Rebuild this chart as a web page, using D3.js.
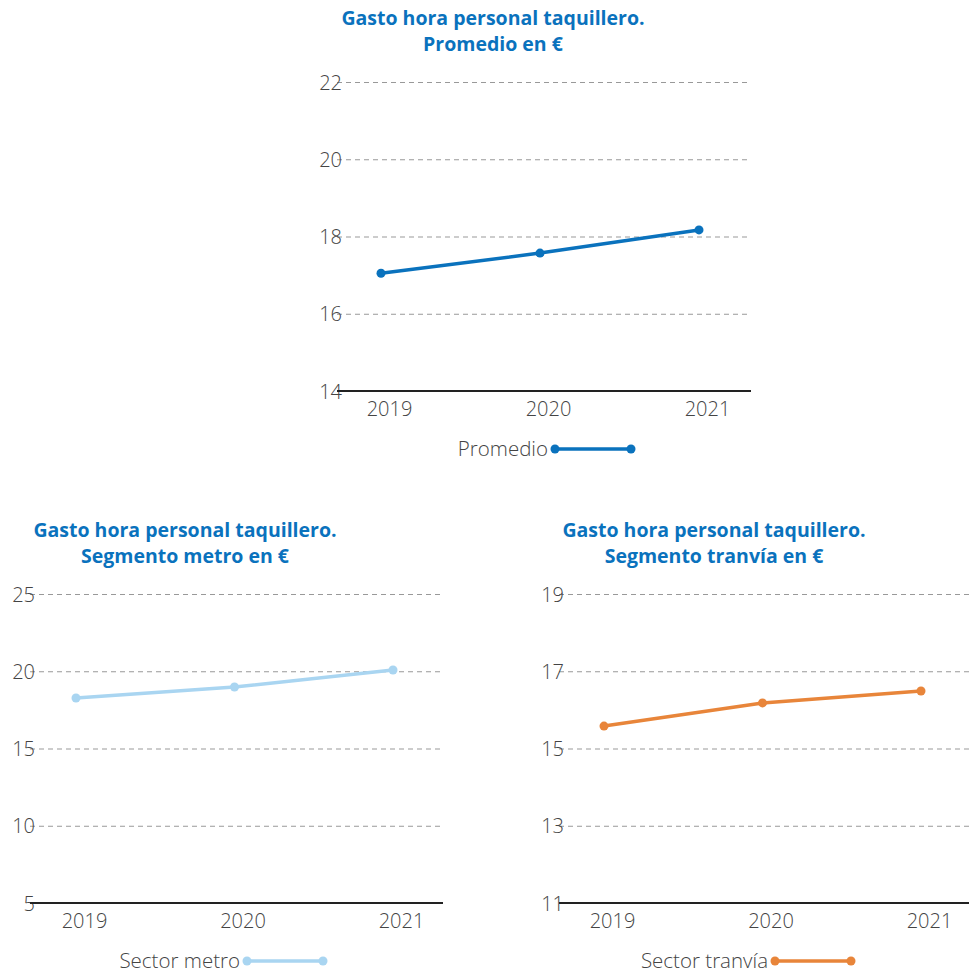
<!DOCTYPE html>
<html><head><meta charset="utf-8">
<script src="https://cdn.jsdelivr.net/npm/d3@7"></script>
<style>
body{margin:0;background:#fff;}
svg{display:block;}
svg text{font-family:"Open Sans",Lato,sans-serif !important;}
.lt{font-weight:300;fill:#444;}
</style></head><body>
<svg id="c" width="969" height="974"></svg>
<script>
const years = ["2019","2020","2021"];
const promedio = [17.05, 17.57, 18.17];
const metro = [18.27, 18.98, 20.08];
const tranvia = [15.58, 16.18, 16.49];
const ticksPromedio = [14,16,18,20,22];
const ticksMetro = [5,10,15,20,25];
const ticksTranvia = [11,13,15,17,19];

const svg = d3.select("#c");
const titleColor = "#0a72bd";

const panels = [
  {title:["Gasto hora personal taquillero.","Promedio en €"], titleX:493, titleY:25,
   left:343, right:751, top:82, bottom:391, domain:[14,22], ticks:ticksPromedio,
   xr:[381,699], values:promedio, color:"#0a72bd", legend:"Promedio", legX:548, legY:449},
  {title:["Gasto hora personal taquillero.","Segmento metro en €"], titleX:185, titleY:537,
   left:36, right:443, top:594, bottom:903, domain:[5,25], ticks:ticksMetro,
   xr:[76,393], values:metro, color:"#a9d5f1", legend:"Sector metro", legX:240, legY:961},
  {title:["Gasto hora personal taquillero.","Segmento tranvía en €"], titleX:714, titleY:537,
   left:565, right:969, top:594, bottom:903, domain:[11,19], ticks:ticksTranvia,
   xr:[604,921], values:tranvia, color:"#e8853a", legend:"Sector tranvía", legX:768, legY:961}
];

panels.forEach(p=>{
  const g = svg.append("g");
  const y = d3.scaleLinear().domain(p.domain).range([p.bottom,p.top]);
  const x = d3.scalePoint().domain(years).range(p.xr);

  // title
  const t = g.append("text").attr("x",p.titleX).attr("y",p.titleY)
    .attr("text-anchor","middle").attr("fill",titleColor)
    .attr("font-size",19.5).attr("font-weight",700);
  p.title.forEach((l,i)=>t.append("tspan").attr("x",p.titleX).attr("dy",i?26:0).text(l));

  // y axis with gridlines
  const ya = g.append("g").attr("transform",`translate(${p.left},0)`)
    .call(d3.axisLeft(y).tickValues(p.ticks).tickSize(-(p.right-p.left)).tickPadding(2));
  ya.select(".domain").remove();
  ya.selectAll(".tick line").attr("stroke","#999").attr("stroke-dasharray","5,4").attr("stroke-width",1)
    .attr("x1",-6);
  ya.selectAll(".tick text").attr("class","lt").attr("font-size",20).attr("x",-1).attr("dy","0.36em");
  ya.selectAll(".tick").filter(d=>d===p.domain[0]).select("line").remove();

  // x axis baseline
  g.append("line").attr("x1",p.left-6).attr("x2",p.right).attr("y1",y(p.domain[0])).attr("y2",y(p.domain[0]))
    .attr("stroke","#222").attr("stroke-width",2);
  const xa = g.append("g").attr("transform",`translate(0,${p.bottom})`)
    .call(d3.axisBottom(x).tickSize(0).tickPadding(8));
  xa.select(".domain").remove();
  xa.selectAll(".tick text").attr("class","lt").attr("font-size",20).attr("dx",8).attr("dy","0.85em");

  // line
  const data = years.map((yr,i)=>({yr,v:p.values[i]}));
  g.append("path").datum(data).attr("fill","none").attr("stroke",p.color).attr("stroke-width",3.5)
    .attr("d",d3.line().x(d=>x(d.yr)).y(d=>y(d.v)));
  g.selectAll("circle.pt").data(data).join("circle").attr("class","pt")
    .attr("cx",d=>x(d.yr)).attr("cy",d=>y(d.v)).attr("r",4.5).attr("fill",p.color);

  // legend
  g.append("text").attr("class","lt").attr("x",p.legX).attr("y",p.legY).attr("dy","0.36em").attr("text-anchor","end")
    .attr("font-size",20.5).text(p.legend);
  g.append("line").attr("x1",p.legX+7).attr("x2",p.legX+83).attr("y1",p.legY).attr("y2",p.legY)
    .attr("stroke",p.color).attr("stroke-width",3.5);
  [p.legX+7,p.legX+83].forEach(cx=>g.append("circle").attr("cx",cx).attr("cy",p.legY).attr("r",4.5).attr("fill",p.color));
});
</script></body></html>
